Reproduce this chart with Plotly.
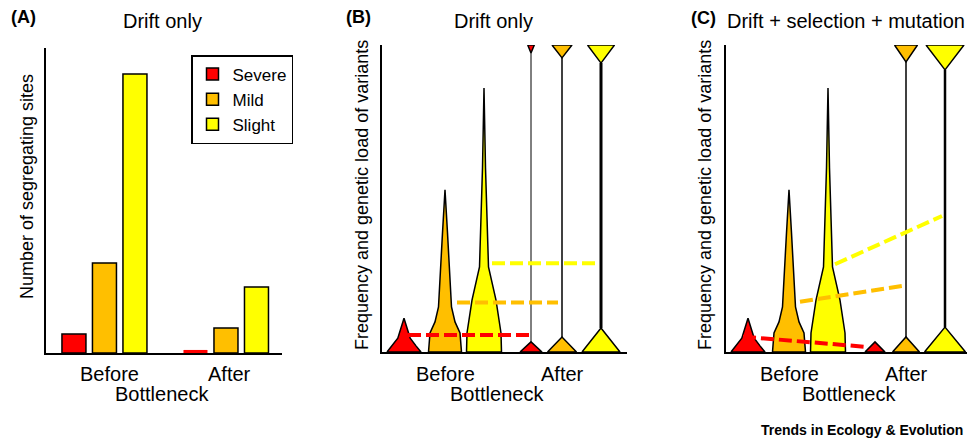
import plotly.graph_objects as go

# ---------------- data ----------------
categories = ["Severe", "Mild", "Slight"]
colors = ["#FF0000", "#FFBF00", "#FFFF00"]
tick_labels = ["Before", "After"]

# Panel A: number of segregating sites (arbitrary units)
sites_before = [6.2, 29.5, 91.5]
sites_after = [1.0, 8.2, 21.6]

# Panels B/C: conceptual distributions (x in arbitrary position units, y in 0-100)
pos_before = [2.2, 6.3, 10.2]
pos_after = [14.9, 18.0, 21.9]

# violin profiles before bottleneck: heights and half-widths
prof_h = {
    "Severe": [0, 2, 4.5, 11],
    "Mild": [0, 6.2, 9.8, 14.7, 38.8, 52.8],
    "Slight": [0, 6.2, 16.9, 27.7, 60, 86],
}
prof_w = {
    "Severe": [1.7, 1.2, 0.62, 0],
    "Mild": [1.65, 1.5, 1.0, 0.65, 0.25, 0],
    "Slight": [1.75, 1.7, 1.2, 0.45, 0.15, 0],
}

# after bottleneck (B: drift only)
B_low_w = [1.1, 1.45, 1.9]
B_low_h = [3.3, 4.9, 7.8]
B_top_w = [0.33, 1.0, 1.35]
B_top_bottom = [97.4, 95.8, 94.1]
B_stem_w = [1, 1.5, 3]
B_mean_x0 = [2.6, 7.5, 11.0]
B_mean_y0 = [5.5, 16.1, 28.9]
B_mean_x1 = [14.8, 17.6, 21.5]
B_mean_y1 = [5.5, 16.1, 28.9]

# after bottleneck (C: drift + selection + mutation)
C_low_w = [1.0, 1.35, 2.05]
C_low_h = [3.3, 4.9, 8.1]
C_top_w = [0, 1.15, 1.9]
C_top_bottom = [100, 94.5, 91.9]
C_stem_w = [0, 1.5, 2.5]
C_mean_x0 = [1.7, 7.4, 10.9]
C_mean_y0 = [5.0, 16.4, 28.6]
C_mean_x1 = [13.9, 17.6, 21.6]
C_mean_y1 = [1.7, 21.5, 44.3]

FONT = "Liberation Sans, Arial, Helvetica, sans-serif"
W, H = 967, 441

fig = go.Figure()

# ---------------- Panel A ----------------
for i, cat in enumerate(categories):
    fig.add_trace(go.Bar(
        x=[0, 1], y=[sites_before[i], sites_after[i]], name=cat,
        marker=dict(color=colors[i],
                    line=dict(color=["black", "black"] if i else ["black", colors[i]],
                              width=[1.5, 1.5] if i else [1.5, 0])),
        xaxis="x", yaxis="y", showlegend=True,
    ))


def violin_xy(c, hs, ws):
    xs = [c - w for w in ws] + [c + w for w in reversed(ws)]
    ys = list(hs) + list(reversed(hs))
    return xs + [xs[0]], ys + [ys[0]]


def add_panel(xa, ya, low_w, low_h, top_w, top_bot, stem_w, mx0, my0, mx1, my1):
    for i, cat in enumerate(categories):
        xs, ys = violin_xy(pos_before[i], prof_h[cat], prof_w[cat])
        fig.add_trace(go.Scatter(x=xs, y=ys, mode="lines", fill="toself",
                                 fillcolor=colors[i], line=dict(color="black", width=1.5),
                                 xaxis=xa, yaxis=ya, showlegend=False, hoverinfo="skip"))
    for i, cat in enumerate(categories):
        c = pos_after[i]
        if stem_w[i] > 0:
            fig.add_trace(go.Scatter(x=[c, c], y=[low_h[i], top_bot[i]], mode="lines",
                                     line=dict(color="black", width=stem_w[i]),
                                     xaxis=xa, yaxis=ya, showlegend=False, hoverinfo="skip"))
        fig.add_trace(go.Scatter(x=[c - low_w[i], c, c + low_w[i], c - low_w[i]],
                                 y=[0, low_h[i], 0, 0], mode="lines", fill="toself",
                                 fillcolor=colors[i], line=dict(color="black", width=1.5),
                                 xaxis=xa, yaxis=ya, showlegend=False, hoverinfo="skip"))
        if top_w[i] > 0:
            fig.add_trace(go.Scatter(x=[c - top_w[i], c + top_w[i], c, c - top_w[i]],
                                     y=[100, 100, top_bot[i], 100], mode="lines", fill="toself",
                                     fillcolor=colors[i], line=dict(color="black", width=1.5),
                                     xaxis=xa, yaxis=ya, showlegend=False, hoverinfo="skip"))
    for i, cat in enumerate(categories):
        fig.add_trace(go.Scatter(x=[mx0[i], mx1[i]], y=[my0[i], my1[i]], mode="lines",
                                 line=dict(color=colors[i], width=4, dash="13px,5px"),
                                 xaxis=xa, yaxis=ya, showlegend=False, hoverinfo="skip"))


add_panel("x2", "y2", B_low_w, B_low_h, B_top_w, B_top_bottom, B_stem_w,
          B_mean_x0, B_mean_y0, B_mean_x1, B_mean_y1)
add_panel("x3", "y3", C_low_w, C_low_h, C_top_w, C_top_bottom, C_stem_w,
          C_mean_x0, C_mean_y0, C_mean_x1, C_mean_y1)

axis_common = dict(showgrid=False, zeroline=False, showticklabels=False, ticks="",
                   showline=True, linecolor="black", fixedrange=True)

fig.update_layout(
    width=W, height=H, margin=dict(l=0, r=0, t=0, b=0),
    paper_bgcolor="white", plot_bgcolor="white",
    font=dict(family=FONT, color="black", size=18),
    barmode="group", bargap=0.247, bargroupgap=0.213,
    xaxis=dict(domain=[46 / W, 282 / W], range=[-0.481, 1.461], anchor="y",
               linewidth=2, **axis_common),
    yaxis=dict(domain=[1 - 353 / H, 1 - 48 / H], range=[0, 100], anchor="x",
               linewidth=2, **axis_common),
    xaxis2=dict(domain=[382 / W, 627 / W], range=[0, 24.5], anchor="y2",
                linewidth=1.5, **axis_common),
    yaxis2=dict(domain=[1 - 352 / H, 1 - 45 / H], range=[0, 100], anchor="x2",
                linewidth=1.5, **axis_common),
    xaxis3=dict(domain=[726 / W, 1.0], range=[0, 24.1], anchor="y3",
                linewidth=1.5, **axis_common),
    yaxis3=dict(domain=[1 - 352 / H, 1 - 45 / H], range=[0, 100], anchor="x3",
                linewidth=1.5, **axis_common),
    legend=dict(x=191 / W, y=1 - 55 / H, xanchor="left", yanchor="top",
                bordercolor="black", borderwidth=1.5, bgcolor="white",
                font=dict(size=17), tracegroupgap=0),
)

ann = []


def text(x, y, s, size=20, bold=False, xanchor="center", angle=0, xref="paper"):
    ann.append(dict(x=x if xref != "paper" else x / W, y=1 - y / H, xref=xref, yref="paper",
                    text=f"<b>{s}</b>" if bold else s, showarrow=False,
                    xanchor=xanchor, yanchor="middle", textangle=angle,
                    font=dict(size=size, family=FONT, color="black")))


# panel letters and titles
text(9, 17, "(A)", 18, True, "left")
text(162, 21, "Drift only")
text(344, 17, "(B)", 18, True, "left")
text(493, 21, "Drift only")
text(689, 18, "(C)", 18, True, "left")
text(846, 21, "Drift + selection + mutation")

# y-axis titles
text(27, 187, "Number of segregating sites", 18, angle=-90)
text(362, 195, "Frequency and genetic load of variants", 18, angle=-90)
text(705, 195, "Frequency and genetic load of variants", 18, angle=-90)

# x tick labels
for xr, vals in (("x", [0.045, 1.033]), ("x2", [pos_before[1], pos_after[1]]),
                 ("x3", [pos_before[1], pos_after[1]])):
    for v, lab in zip(vals, tick_labels):
        text(v, 374, lab, 20, xref=xr)

text(162, 394, "Bottleneck")
text(497, 394, "Bottleneck")
text(849, 394, "Bottleneck")

text(965, 430, "Trends in Ecology &amp; Evolution", 14, True, "right")

fig.update_layout(annotations=ann)
fig.write_html("out.html", config={"displayModeBar": False},
               post_script="document.body.style.margin='0';document.body.style.overflow='hidden';")
